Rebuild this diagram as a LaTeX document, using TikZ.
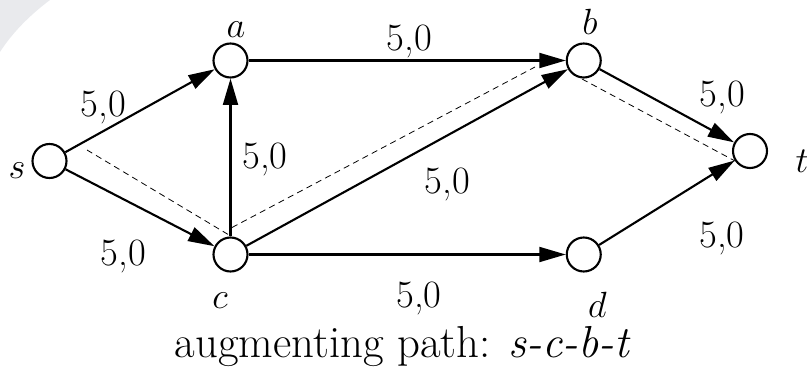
\documentclass[tikz,border=0pt]{standalone}
\usetikzlibrary{arrows.meta}

\begin{document}
\begin{tikzpicture}[x=1cm,y=1cm,line width=1.2pt,
  vertex/.style={circle,draw,fill=white,inner sep=0pt,minimum size=0.68cm},
  flow/.style={-{Triangle[length=15pt,width=8.5pt]}},
  aug/.style={line width=.45pt,dash pattern=on 3.5pt off 2.5pt},
  wt/.style={anchor=base,inner sep=0pt,font=\fontsize{22}{24}\selectfont},
  nm/.style={anchor=base,inner sep=0pt,font=\fontsize{22}{24}\selectfont}]
\useasboundingbox (0,0) rectangle (16.14,7.5);
\fill[color={rgb,255:red,233;green,234;blue,237}] (0,7.5)--(1.0,7.5) .. controls (0.6,7.2) and (0.25,6.85) .. (0,6.46)--cycle;
% dashed augmenting path
\coordinate (p1) at (1.74,4.50);
\coordinate (p2) at (4.58,2.80);
\coordinate (p3) at (4.64,2.95);
\coordinate (p4) at (10.70,6.16);
\coordinate (p5) at (11.64,5.92);
\coordinate (p6) at (14.70,4.28);
\draw[aug] (p1)--(p2);
\draw[aug] (p3)--(p4);
\draw[aug] (p5)--(p6);
% vertices
\node[vertex] (s) at (0.99,4.28) {};
\node[vertex] (a) at (4.61,6.29) {};
\node[vertex] (b) at (11.675,6.29) {};
\node[vertex] (c) at (4.61,2.41) {};
\node[vertex] (d) at (11.675,2.41) {};
\node[vertex] (t) at (15.00,4.48) {};
\node[nm] (ls) at (0.34,3.94) {$s$};
\node[nm] (la) at (4.72,6.74) {$a$};
\node[nm] (lb) at (11.80,6.80) {$b$};
\node[nm] (lc) at (4.40,1.34) {$c$};
\node[nm] (ld) at (11.95,1.16) {$d$};
\node[nm] (lt) at (16.04,4.06) {$t$};
% edges
\draw[flow] (s)--(a);
\draw[flow] (s)--(c);
\draw[flow] (c)--(a);
\draw[flow] (a)--(b);
\draw[flow] (c)--(b);
\draw[flow] (c)--(d);
\draw[flow] (b)--(t);
\draw[flow] (d)--(t);
\node[wt] (wsa) at (2.07,5.16) {5,0};
\node[wt] (wsc) at (2.47,2.20) {5,0};
\node[wt] (wca) at (5.30,4.14) {5,0};
\node[wt] (wab) at (8.19,6.48) {5,0};
\node[wt] (wcb) at (8.95,3.64) {5,0};
\node[wt] (wcd) at (8.38,1.36) {5,0};
\node[wt] (wbt) at (14.45,5.36) {5,0};
\node[wt] (wdt) at (14.44,2.56) {5,0};
\node[anchor=base,inner sep=0pt,font=\fontsize{25.5}{28}\selectfont] (cap) at (8.05,0.36) {augmenting path: \textit{s-c-b-t}};
\end{tikzpicture}
\end{document}
